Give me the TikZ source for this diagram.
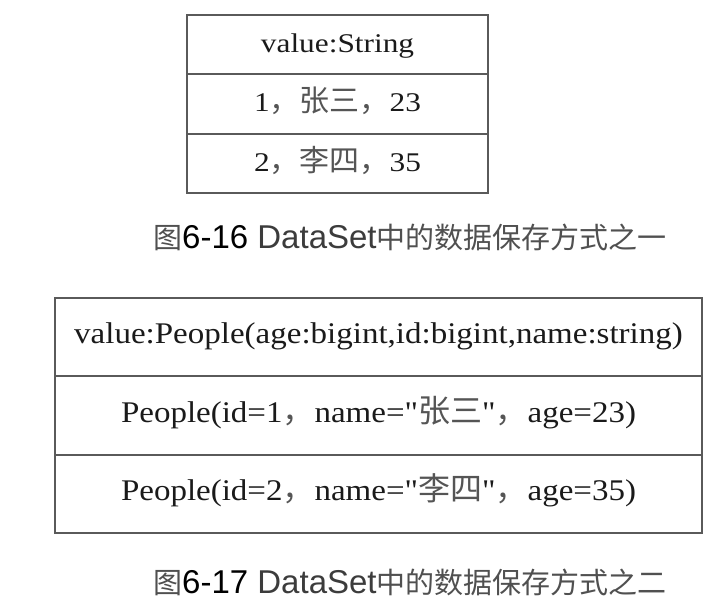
\documentclass[tikz,border=0pt]{standalone}
\usepackage{fontspec}
\newfontfamily\serifA[FakeStretch=1.16]{Liberation Serif}
\newfontfamily\serifB[FakeStretch=1.1]{Liberation Serif}
\newfontfamily\cjkfont{Noto Sans CJK SC}
\newfontfamily\arialfont{Liberation Sans}
\definecolor{bordergray}{HTML}{5A5A5A}
\definecolor{txtdark}{HTML}{1A1A1A}
\definecolor{cjkgray}{HTML}{555555}
\definecolor{capgray}{HTML}{505050}
\definecolor{capdark}{HTML}{3C3C3C}
\def\cjsize{30bp}
\newcommand\cjtext[1]{{\fontsize{\cjsize}{\cjsize}\cjkfont\color{cjkgray}#1}}
\tikzset{
  cellbase/.style={draw=bordergray, line width=2bp, rectangle, inner sep=0pt, text=txtdark, align=center},
  topcell/.style={cellbase, minimum width=301bp, minimum height=59.33bp, text height=20bp, text depth=4bp,
    font=\fontsize{27bp}{32bp}\serifA\def\cjsize{30bp}},
  botcell/.style={cellbase, minimum width=647bp, minimum height=78.33bp, text height=19bp, text depth=6bp,
    font=\fontsize{30bp}{36bp}\serifB\def\cjsize{32bp}},
  caption/.style={anchor=base west, inner sep=0pt, font=\fontsize{29bp}{34bp}\cjkfont}
}
\newcommand\captext[2]{{\color{capgray}图}{\arialfont\fontsize{33bp}{38bp}\selectfont\color{black}#1\ {\color{capdark}DataSet}}{\color{capgray}中的数据保存方式之#2}}
\begin{document}
\begin{tikzpicture}[x=1bp,y=-1bp]
\useasboundingbox (0,0) rectangle (722,608);
% table 1
\node[topcell] (t1h) at (337.5,44.67) {value:String};
\node[topcell] (t1a) at (337.5,104) {1\cjtext{，张三，}23};
\node[topcell] (t1b) at (337.5,163.33) {2\cjtext{，李四，}35};
\node[caption] (cap1) at (153,248) {\captext{6-16}{一}};
% table 2
\node[botcell] (t2h) at (378.5,337.17) {value:People(age:bigint,id:bigint,name:string)};
\node[botcell] (t2a) at (378.5,415.5) {People(id=1\cjtext{，}name="\cjtext{张三}"\cjtext{，}age=23)};
\node[botcell] (t2b) at (378.5,493.83) {People(id=2\cjtext{，}name="\cjtext{李四}"\cjtext{，}age=35)};
\node[caption] (cap2) at (153,593) {\captext{6-17}{二}};
\end{tikzpicture}
\end{document}
